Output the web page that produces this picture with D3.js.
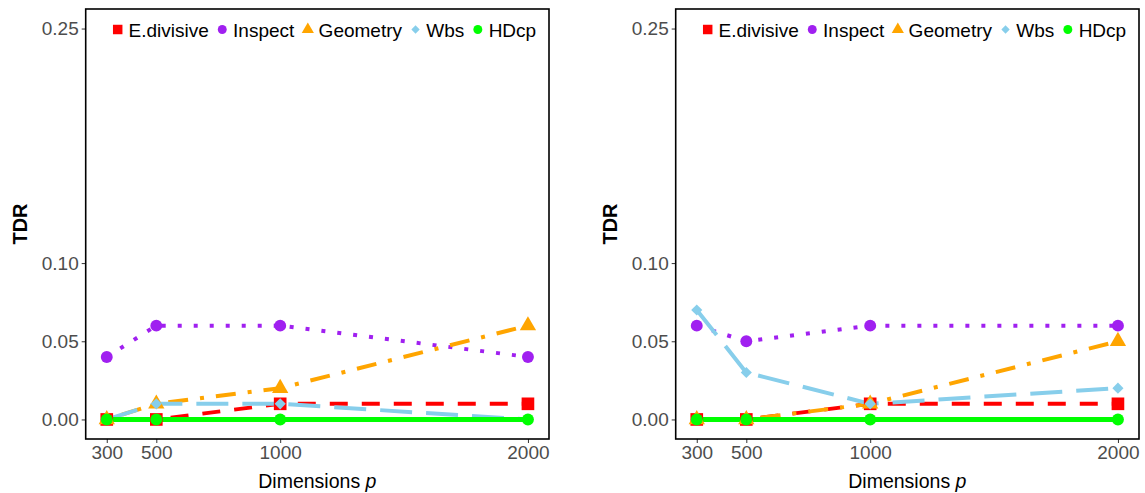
<!DOCTYPE html>
<html>
<head>
<meta charset="utf-8">
<script src="https://cdn.jsdelivr.net/npm/d3@7"></script>
<style>
  html, body { margin: 0; padding: 0; background: #fff; }
  svg { display: block; font-family: "Liberation Sans", Arial, sans-serif; }
</style>
</head>
<body>
<svg id="chart" width="1145" height="493"></svg>
<script>
// ---------- data ----------
const dims = [300, 500, 1000, 2000];
const methods = ["E.divisive", "Inspect", "Geometry", "Wbs", "HDcp"];
const xTickValues = [300, 500, 1000, 2000];
const yTickValues = [0, 0.05, 0.10, 0.25];

// left panel
const leftEdivisive = [0, 0, 0.01, 0.01];
const leftInspect   = [0.04, 0.06, 0.06, 0.04];
const leftGeometry  = [0, 0.01, 0.02, 0.06];
const leftWbs       = [0, 0.01, 0.01, 0];
const leftHDcp      = [0, 0, 0, 0];

// right panel
const rightEdivisive = [0, 0, 0.01, 0.01];
const rightInspect   = [0.06, 0.05, 0.06, 0.06];
const rightGeometry  = [0, 0, 0.01, 0.05];
const rightWbs       = [0.07, 0.03, 0.01, 0.02];
const rightHDcp      = [0, 0, 0, 0];

const panels = [
  { offset: 0,   series: [leftEdivisive, leftInspect, leftGeometry, leftWbs, leftHDcp] },
  { offset: 590, series: [rightEdivisive, rightInspect, rightGeometry, rightWbs, rightHDcp] }
];

// ---------- styles ----------
const styles = {
  "E.divisive": { color: "#FF0000", dash: "18,14", width: 4, shape: "square" },
  "Inspect":    { color: "#A020F0", dash: "4,12", width: 4, shape: "circle" },
  "Geometry":   { color: "#FFA500", dash: "4,12,20,12", width: 4, shape: "triangle" },
  "Wbs":        { color: "#87CEEB", dash: "32,14", width: 4, shape: "diamond" },
  "HDcp":       { color: "#00FF00", dash: null, width: 5, shape: "circle" }
};

function symbolPath(shape, scale) {
  const s = scale || 1;
  if (shape === "square") return d3.symbol(d3.symbolSquare, 160 * s * s)();
  if (shape === "circle") return d3.symbol(d3.symbolCircle, 112 * s * s)();
  if (shape === "triangle") return d3.symbol(d3.symbolTriangle, 115 * s * s)();
  if (shape === "diamond") return d3.symbol(d3.symbolSquare, 62 * s * s)();
  return null;
}

const svg = d3.select("#chart");
const L = 85.7, R = 549, T = 9, B = 439;

const x = d3.scaleLinear().domain([215, 2085]).range([L, R]);
const y = d3.scaleLinear().domain([-0.0125, 0.2625]).range([B, T]);

panels.forEach(panel => {
  const g = svg.append("g").attr("transform", `translate(${panel.offset},0)`);

  // axes
  const xAxis = d3.axisBottom(x).tickValues(xTickValues).tickSize(4).tickPadding(3).tickFormat(d3.format("d"));
  const yAxis = d3.axisLeft(y).tickValues(yTickValues).tickSize(4).tickPadding(3).tickFormat(d3.format(".2f"));

  const gx = g.append("g").attr("transform", `translate(0,${B})`).call(xAxis);
  const gy = g.append("g").attr("transform", `translate(${L},0)`).call(yAxis);
  [gx, gy].forEach(a => {
    a.select(".domain").remove();
    a.selectAll(".tick line").attr("stroke", "#333333").attr("stroke-width", 1);
    a.selectAll(".tick text").attr("fill", "#4D4D4D").style("font-size", "19px")
      .style("font-family", "'Liberation Sans', Arial, sans-serif");
  });

  // lines
  const line = d3.line().x((d, i) => x(dims[i])).y(d => y(d)).curve(d3.curveLinear);
  panel.series.forEach((vals, k) => {
    const st = styles[methods[k]];
    g.append("path")
      .attr("d", line(vals))
      .attr("fill", "none")
      .attr("stroke", st.color)
      .attr("stroke-width", st.width)
      .attr("stroke-dasharray", st.dash)
      .attr("stroke-linecap", "butt")
      .attr("stroke-linejoin", "round");
  });

  // points
  panel.series.forEach((vals, k) => {
    const st = styles[methods[k]];
    g.selectAll(null).data(vals).enter().append("path")
      .attr("d", symbolPath(st.shape, 1))
      .attr("transform", (d, i) => `translate(${x(dims[i])},${y(d)})` + (st.shape === "diamond" ? " rotate(45)" : ""))
      .attr("fill", st.color);
  });

  // panel border
  g.append("rect").attr("x", L).attr("y", T).attr("width", R - L).attr("height", B - T)
    .attr("fill", "none").attr("stroke", "#000").attr("stroke-width", 1.6);

  // axis titles
  g.append("text")
    .attr("transform", `translate(27,${(T + B) / 2}) rotate(-90)`)
    .attr("text-anchor", "middle")
    .style("font-size", "20px").style("font-weight", "bold").attr("fill", "#000")
    .text("TDR");

  const xt = g.append("text")
    .attr("x", (L + R) / 2).attr("y", 488)
    .attr("text-anchor", "middle")
    .style("font-size", "19.5px").attr("fill", "#000");
  xt.append("tspan").text("Dimensions ");
  xt.append("tspan").style("font-style", "italic").text("p");

  // legend
  const lg = g.append("g");
  let cx = L + 32;
  const ly = 29.5;
  methods.forEach((m, k) => {
    const st = styles[m];
    lg.append("path")
      .attr("d", symbolPath(st.shape, 0.75))
      .attr("transform", `translate(${cx},${ly})` + (st.shape === "diamond" ? " rotate(45)" : ""))
      .attr("fill", st.color);
    const t = lg.append("text")
      .attr("x", cx + 10.8).attr("y", ly + 7)
      .style("font-size", "19px").attr("fill", "#000")
      .text(m);
    const w = t.node().getComputedTextLength();
    cx = cx + 10.8 + w + 13.5;
  });
});
</script>
</body>
</html>
